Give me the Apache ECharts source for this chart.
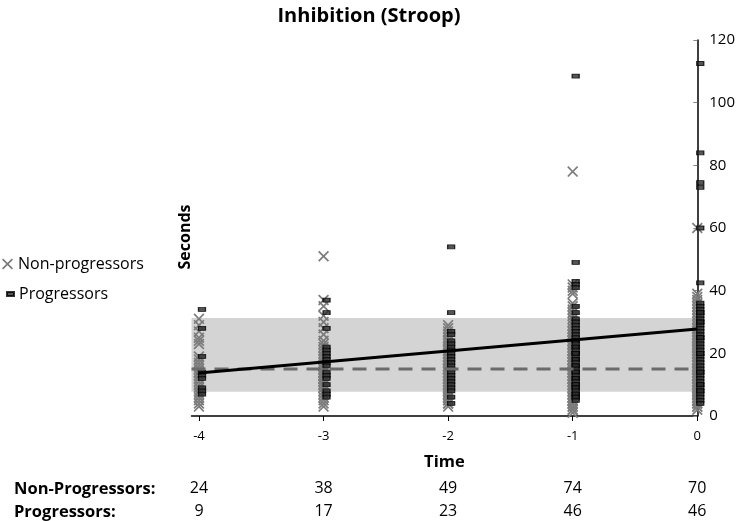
<!DOCTYPE html>
<html><head><meta charset="utf-8">
<script src="https://cdn.jsdelivr.net/npm/echarts@6/dist/echarts.min.js"></script>
<style>html,body{margin:0;padding:0;background:#fff}#c{width:738px;height:521px}</style>
</head><body><div id="c"></div>
<script>
// ---- data ----
const times = [-4, -3, -2, -1, 0];
const yTicks = [0, 20, 40, 60, 80, 100, 120];
const nonProgCounts = [24, 38, 49, 74, 70];
const progCounts = [9, 17, 23, 46, 46];

const nonProgM4 = [31,29,27,25,24,23,19,18,17,16,15,14,14,13,12,11,10,9,8,7,6,5,4,3];
const nonProgM3 = [51,37,35,32,30,28,26,24,23,22,21,20,19,19,18,17,16,16,15,15,14,14,13,13,12,12,11,11,10,10,9,9,8,7,6,5,4,3];
const nonProgM2 = [29,28,27,26,25,24,24,23,22,22,21,21,20,20,19,19,18,18,17,17,16,16,15,15,15,14,14,13,13,12,12,11,11,10,10,9,9,8,8,7,7,6,6,5,5,4,4,3,12];
const nonProgM1 = [78,42,41,40,39,36,35,34,33,32,31,30,29,28,27,27,26,26,25,25,24,24,23,23,22,22,21,21,20,20,19,19,18,18,17,17,16,16,15,15,15,14,14,14,13,13,12,12,11,11,10,10,9,9,8,8,7,7,6,6,5,5,4,4,3,3,2,2,1,18,20,12,9,16];
const nonProgT0 = [60,39,38,37,36,35,34,33,32,31,30,29,28,28,27,27,26,26,25,25,24,24,23,23,22,22,21,21,20,20,19,19,18,18,17,17,16,16,15,15,14,14,13,13,12,12,11,11,10,10,9,9,8,8,7,7,6,6,5,5,4,4,3,3,2,15,19,12,10,22];

const progM4 = [34,28,19,14,13,12,9,8,7];
const progM3 = [37,33,28,22,21,20,19,18,17,16,14,13,12,10,8,7,6];
const progM2 = [54,33,27,26,24,23,22,21,20,19,18,17,16,15,14,13,12,11,10,9,8,6,4];
const progM1 = [108.5,49,43,42,41,35,33,31,30,29,28,27,26,25,24,24,23,22,22,21,20,20,19,18,18,17,16,16,15,14,14,13,12,12,11,10,10,9,9,8,7,7,6,6,5,20];
const progT0 = [112.5,84,74.5,73,60,42.5,36,35,34,33,32,31,30,29,28,27,26,25,24,23,22,21,20,19,18,17,16,15,14,13,12,11,10,9,8,7,6,5,4,33,30,25,20,14,10,8];

const nonProgByTime = [nonProgM4, nonProgM3, nonProgM2, nonProgM1, nonProgT0];
const progByTime = [progM4, progM3, progM2, progM1, progT0];

const trendTimes = [-4, 0];
const trendValues = [13.7, 27.8];
const meanValue = 15;
const bandLow = 7.7;
const bandHigh = 31.3;

// ---- build ----
const FONT = 'Open Sans';
const xMin = -4.06, xMax = 0;
function pairs(byTime) {
  const out = [];
  byTime.forEach((vals, i) => vals.forEach(v => out.push([times[i], v])));
  return out;
}
const XPATH = 'path://M0,1.1L1.1,0L5,3.9L8.9,0L10,1.1L6.1,5L10,8.9L8.9,10L5,6.1L1.1,10L0,8.9L3.9,5Z';

function countAxis(counts, margin) {
  return {
    type: 'value', min: xMin, max: xMax, position: 'bottom', offset: 0,
    axisLine: {show: false}, axisTick: {show: false}, splitLine: {show: false},
    axisLabel: {
      customValues: times, margin: margin, fontFamily: FONT, fontSize: 16, color: '#000',
      formatter: v => String(counts[times.indexOf(Math.round(v))])
    }
  };
}

const option = {
  animation: false,
  backgroundColor: '#fff',
  title: {
    text: 'Inhibition (Stroop)', left: 364, top: 1, textAlign: 'center',
    textStyle: {fontFamily: FONT, fontWeight: 'bold', fontSize: 20, color: '#000'}
  },
  legend: [
    {data: [{name: 'Non-progressors', icon: XPATH}], left: 2, top: 256, padding: 0,
     itemWidth: 11, itemHeight: 11, textStyle: {fontFamily: FONT, fontSize: 16, color: '#000'}},
    {data: [{name: 'Progressors', icon: 'rect'}], left: 6, top: 286, padding: 0,
     itemWidth: 7, itemHeight: 4, textStyle: {fontFamily: FONT, fontSize: 16, color: '#000'}}
  ],
  grid: {left: 191.5, right: 39, top: 40, bottom: 105},
  xAxis: [
    {
      type: 'value', min: xMin, max: xMax, position: 'bottom',
      axisLine: {show: true, lineStyle: {color: '#000', width: 1.5}},
      axisTick: {show: true, customValues: times, length: 5, lineStyle: {color: '#000'}},
      axisLabel: {customValues: times, margin: 14, fontFamily: FONT, fontSize: 13, color: '#000',
        formatter: v => String(Math.round(v))},
      splitLine: {show: false},
      name: 'Time', nameLocation: 'middle', nameGap: 38,
      nameTextStyle: {fontFamily: FONT, fontWeight: 'bold', fontSize: 16.5, color: '#000'}
    },
    countAxis(nonProgCounts, 64),
    countAxis(progCounts, 87)
  ],
  yAxis: {
    type: 'value', position: 'right', min: yTicks[0], max: yTicks[yTicks.length - 1], interval: 20,
    axisLine: {show: true, lineStyle: {color: '#000', width: 1.5}},
    axisTick: {show: true, inside: true, length: 4, lineStyle: {color: '#888'}},
    axisLabel: {margin: 12, fontFamily: FONT, fontSize: 15, color: '#000'},
    splitLine: {show: false}
  },
  graphic: [
    {type: 'text', x: 185, y: 237, rotation: Math.PI / 2,
     style: {text: 'Seconds', fontFamily: FONT, fontWeight: 'bold', fontSize: 16, fill: '#000', align: 'center', verticalAlign: 'middle'}},
    {type: 'text', x: 14, y: 489,
     style: {text: 'Non-Progressors:', fontFamily: FONT, fontWeight: 'bold', fontSize: 16.5, fill: '#000', verticalAlign: 'middle'}},
    {type: 'text', x: 14, y: 512,
     style: {text: 'Progressors:', fontFamily: FONT, fontWeight: 'bold', fontSize: 16.5, fill: '#000', verticalAlign: 'middle'}}
  ],
  series: [
    {
      name: 'band', type: 'line', data: [], silent: true, z: 0,
      markArea: {silent: true, itemStyle: {color: '#d4d4d4'},
        data: [[{xAxis: xMin, yAxis: bandLow}, {xAxis: xMax, yAxis: bandHigh}]]}
    },
    {
      name: 'Non-progressors', type: 'scatter', data: pairs(nonProgByTime), z: 2,
      symbol: XPATH, symbolSize: 11, itemStyle: {color: '#7c7c7c', opacity: 1}
    },
    {
      name: 'Progressors', type: 'scatter', data: pairs(progByTime), z: 3,
      symbol: 'rect', symbolSize: [7, 4], symbolOffset: [3, 0],
      itemStyle: {color: '#2a2a2a', borderColor: '#000', borderWidth: 1}
    },
    {
      name: 'mean', type: 'line', data: [[xMin, meanValue], [xMax, meanValue]], z: 4,
      symbol: 'none', lineStyle: {color: '#6b6b6b', width: 3, type: [14, 9]}
    },
    {
      name: 'trend', type: 'line', data: trendTimes.map((t, i) => [t, trendValues[i]]), z: 5,
      symbol: 'none', lineStyle: {color: '#000', width: 3}
    }
  ]
};
echarts.init(document.getElementById('c')).setOption(option);
</script>
</body></html>
